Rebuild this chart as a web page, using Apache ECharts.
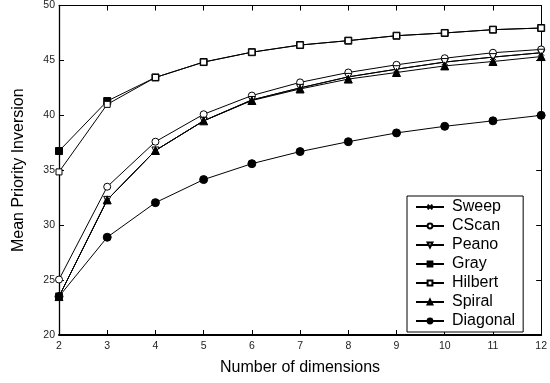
<!DOCTYPE html>
<html><head><meta charset="utf-8">
<script src="https://cdn.jsdelivr.net/npm/echarts@6/dist/echarts.min.js"></script>
<style>html,body{margin:0;padding:0;background:#fff}#c{width:550px;height:383px}</style>
</head><body><div id="c"></div>
<script>
const dims = [2,3,4,5,6,7,8,9,10,11,12];
const sweep    = [23.5,32.3,36.8,39.5,41.4,42.5,43.5,44.2,44.85,45.3,45.7];
const cscan    = [25.05,33.5,37.6,40.1,41.8,43.0,43.9,44.6,45.2,45.7,46.0];
const peano    = [23.5,32.3,36.8,39.5,41.4,42.5,43.5,44.2,44.85,45.3,45.7];
const gray     = [36.75,41.3,43.45,44.85,45.75,46.4,46.8,47.25,47.5,47.8,47.95];
const hilbert  = [34.85,41.0,43.45,44.85,45.75,46.4,46.8,47.25,47.5,47.8,47.95];
const spiral   = [23.5,32.3,36.8,39.5,41.35,42.4,43.3,43.9,44.5,44.9,45.35];
const diagonal = [23.5,28.9,32.05,34.15,35.6,36.7,37.6,38.4,39.0,39.5,40.0];
const seriesNames = ['Sweep','CScan','Peano','Gray','Hilbert','Spiral','Diagonal'];
const yTicks = [20,25,30,35,40,45,50];

const FONT = '"Liberation Sans", Arial, sans-serif';
const cross = 'path://M0,0L10,10M10,0L0,10';
const downTri = 'path://M0,0L10,0L5,9Z';
const specs = [
  {data: sweep, symbol: cross, fill: '#000', size: 6},
  {data: cscan, symbol: 'circle', fill: '#fff', size: 7},
  {data: peano, symbol: downTri, fill: '#fff', size: 7},
  {data: gray, symbol: 'rect', fill: '#000', size: 7},
  {data: hilbert, symbol: 'rect', fill: '#fff', size: 6},
  {data: spiral, symbol: 'triangle', fill: '#000', size: 8},
  {data: diagonal, symbol: 'circle', fill: '#000', size: 8}
];
const series = specs.map((s, i) => ({
  name: seriesNames[i], type: 'line',
  xAxisIndex: 0, yAxisIndex: 0,
  data: dims.map((d, j) => [d, s.data[j]]),
  symbol: s.symbol, symbolSize: s.size, showAllSymbol: true,
  lineStyle: {color: '#000', width: 1},
  itemStyle: {color: s.fill, borderColor: '#000', borderWidth: 1},
  emphasis: {disabled: true}, animation: false
}));

const chart = echarts.init(document.getElementById('c'), null, {renderer: 'canvas'});
const common = {min: 2, max: 12, interval: 1, type: 'value'};
chart.setOption({
  animation: false,
  grid: {left: 59, right: 6, top: 3.5, bottom: 48, containLabel: false},
  xAxis: [
    Object.assign({}, common, {
      position: 'bottom',
      name: 'Number of dimensions', nameLocation: 'middle', nameGap: 25,
      nameTextStyle: {fontFamily: FONT, fontSize: 16, color: '#000'},
      axisLine: {onZero: false, lineStyle: {color: '#000', width: 2}},
      axisTick: {inside: true, length: 5, lineStyle: {color: '#000'}},
      axisLabel: {fontFamily: FONT, fontSize: 10.5, color: '#222', margin: 6},
      splitLine: {show: false}
    }),
    Object.assign({}, common, {
      position: 'top',
      axisLine: {onZero: false, lineStyle: {color: '#000', width: 1}},
      axisTick: {inside: true, length: 5, lineStyle: {color: '#000'}},
      axisLabel: {show: false}, splitLine: {show: false}
    })
  ],
  yAxis: [
    {
      type: 'value', min: 20, max: 50, interval: 5, position: 'left',
      name: 'Mean Priority Inversion', nameLocation: 'middle', nameGap: 32,
      nameTextStyle: {fontFamily: FONT, fontSize: 16, color: '#000'},
      axisLine: {show: true, onZero: false, lineStyle: {color: '#000', width: 1.3}},
      axisTick: {show: true, inside: true, length: 5, lineStyle: {color: '#000'}},
      axisLabel: {fontFamily: FONT, fontSize: 10.5, color: '#222', margin: 4,
        formatter: v => yTicks.includes(v) ? String(v) : ''},
      splitLine: {show: false}
    },
    {
      type: 'value', min: 20, max: 50, interval: 5, position: 'right',
      axisLine: {show: true, onZero: false, lineStyle: {color: '#000', width: 1}},
      axisTick: {show: true, inside: true, length: 5, lineStyle: {color: '#000'}},
      axisLabel: {show: false}, splitLine: {show: false}
    }
  ],
  legend: {
    orient: 'vertical', left: 407, top: 196,
    backgroundColor: '#fff', borderColor: '#000', borderWidth: 1,
    padding: [3, 8, 3, 8],
    itemWidth: 28, itemHeight: 6, itemGap: 3,
    textStyle: {fontFamily: FONT, fontSize: 16, color: '#000', padding: [0,0,0,3]},
    data: seriesNames
  },
  series: series
});
</script></body></html>
